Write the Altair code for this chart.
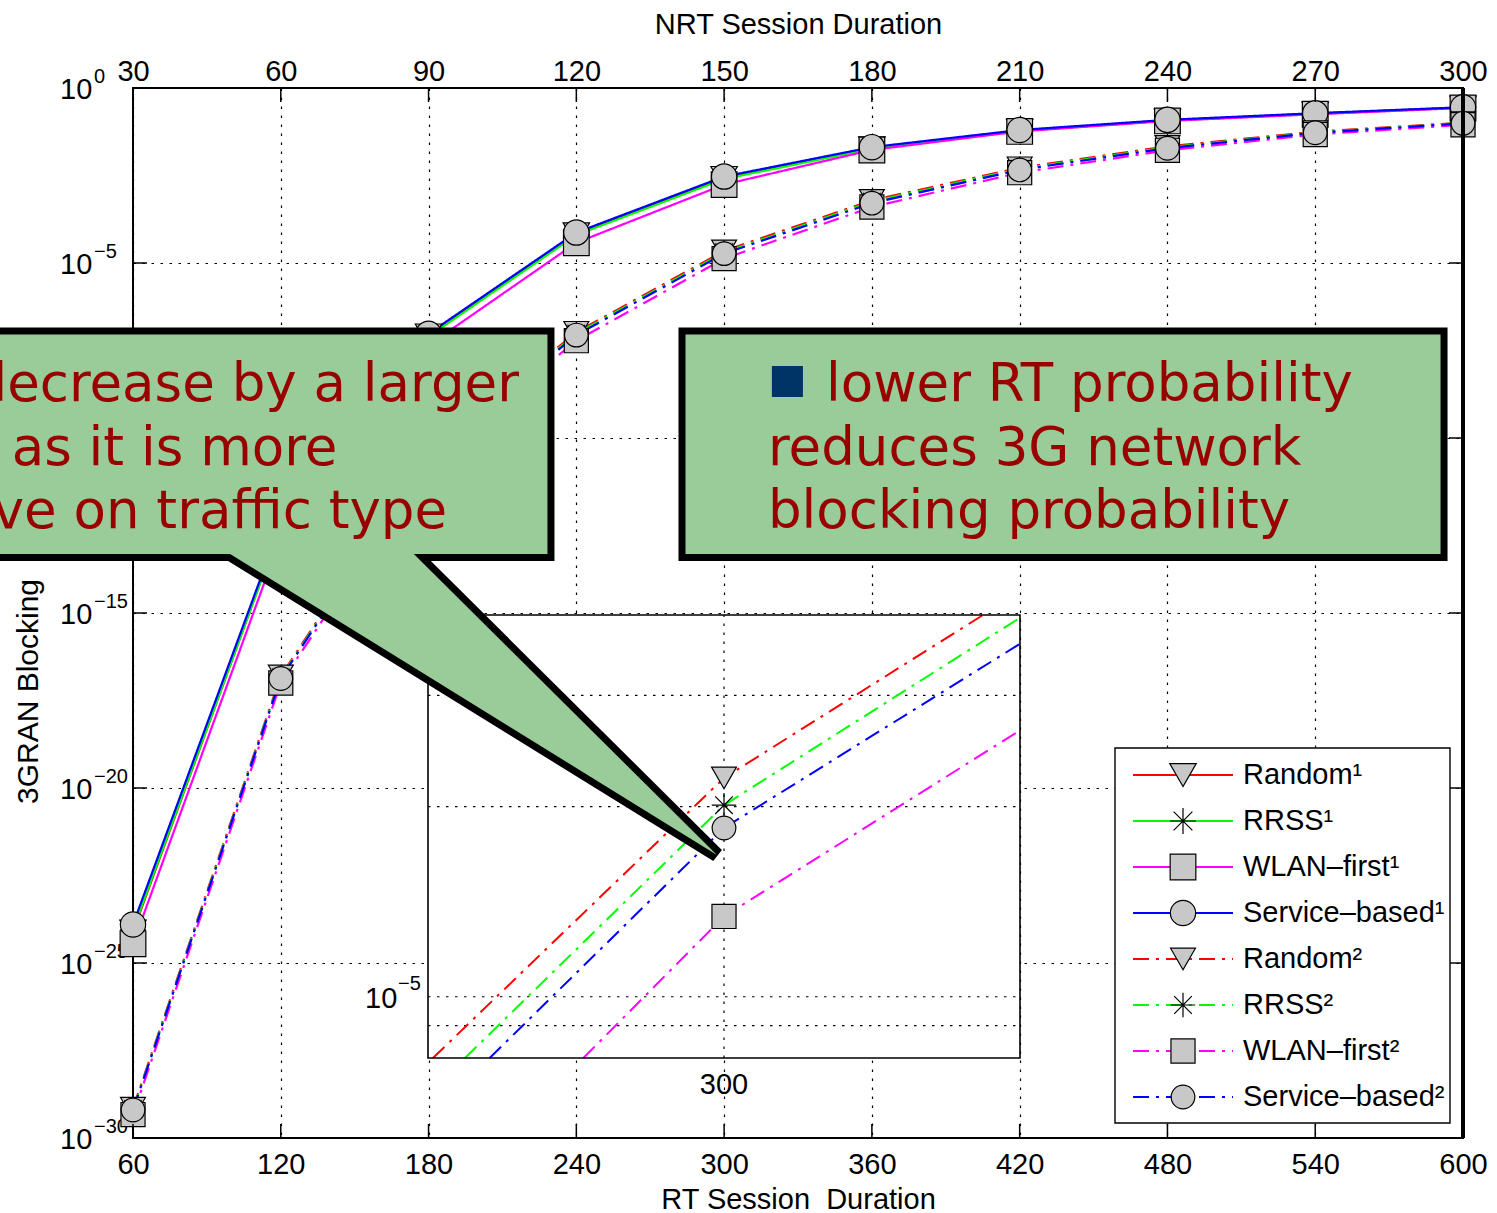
import altair as alt
import pandas as pd

# ---------------- data: log10 of the 3GRAN blocking probability ----------------
RT_SESSION = [60, 120, 180, 240, 300, 360, 420, 480, 540, 600]
SERIES = ["Random¹", "RRSS¹", "WLAN–first¹", "Service–based¹",
          "Random²", "RRSS²", "WLAN–first²", "Service–based²"]

random1 = [-24.10, -12.53, -7.07, -4.18, -2.57, -1.72, -1.22, -0.93, -0.73, -0.56]
rrss1 = [-24.05, -12.55, -7.10, -4.20, -2.60, -1.74, -1.23, -0.93, -0.74, -0.56]
wlan1 = [-24.45, -12.85, -7.35, -4.42, -2.76, -1.77, -1.24, -0.94, -0.75, -0.57]
service1 = [-23.90, -12.45, -7.02, -4.13, -2.53, -1.69, -1.20, -0.91, -0.72, -0.55]
random2 = [-29.15, -16.80, -10.42, -6.98, -4.654, -3.21, -2.28, -1.67, -1.25, -0.99]
rrss2 = [-29.18, -16.84, -10.46, -7.02, -4.696, -3.25, -2.31, -1.70, -1.27, -1.00]
wlan2 = [-29.33, -17.00, -10.65, -7.22, -4.874, -3.40, -2.42, -1.78, -1.33, -1.05]
service2 = [-29.20, -16.87, -10.50, -7.06, -4.732, -3.29, -2.34, -1.72, -1.28, -1.01]

# inset (zoom around RT = 300), values read where the lines meet the inset frame
INSET_SERIES = ["Random²", "RRSS²", "WLAN–first²", "Service–based²"]
inset_rt = {
    "Random²": [288.2, 300, 310.5],
    "RRSS²": [289.5, 300, 312],
    "WLAN–first²": [294.3, 300, 312],
    "Service–based²": [290.5, 300, 312],
}
inset_p = {
    "Random²": [8.0e-6, 2.22e-5, 4.02e-5],
    "RRSS²": [8.0e-6, 2.01e-5, 3.98e-5],
    "WLAN–first²": [8.0e-6, 1.34e-5, 2.64e-5],
    "Service–based²": [8.0e-6, 1.85e-5, 3.62e-5],
}
INSET_X_DOMAIN = [288, 312]
INSET_Y_DOMAIN = [8.0e-6, 4.02e-5]
INSET_GRID_P = [9e-6, 1e-5, 2e-5, 3e-5]
INSET_Y_LABEL_EXP = [-5]

Y_TICK_EXP = [0, -5, -10, -15, -20, -25, -30]
Y_LABEL_EXP = [0, -5, -15, -20, -25, -30]   # the 10^-10 label lies under the callout

# callout annotations in data units (RT session duration, log10 blocking)
BOX_RT = [-12.0, 282.9]
BOX_RT2 = [229.7, 592.3]
BOX_TOP_EXP = -6.943
BOX_BOTTOM_EXP = -13.414
POINTER_RT = [90.25, 168.3, 297.1]
POINTER_TOP_EXP = [-12.914, -12.914, -21.914]
POINTER_BOTTOM_EXP = [-12.914, -16.31, -21.914]
BULLET_RT = [319.4, 332.0]
BULLET_EXP = [-7.943, -8.829]
LEFT_TEXT = ["decrease by a larger", "as it is more", "sensitive on traffic type"]
LEFT_TEXT_RT = [216.7, 143.0, 187.5]
RIGHT_TEXT = ["lower RT probability", "reduces 3G network", "blocking probability"]
RIGHT_TEXT_RT = [341.4, 317.8, 317.8]
TEXT_EXP = [-8.943, -10.771, -12.571]

# ---------------- styles ----------------
COLORS = ["#ff0000", "#00ff00", "#ff00ff", "#0000ff"] * 2
DASHES = [[1, 0]] * 4 + [[16, 7, 3, 7]] * 4
AST = "M0,-1L0,1M-1,0L1,0M-0.72,-0.72L0.72,0.72M-0.72,0.72L0.72,-0.72"
SHAPES = ["triangle-down", AST, "square", "circle"] * 2
SIZES = [700, 560, 420, 480] * 2
GRAY = "#c8c8c8"
GREEN = "#99cc99"
DARKRED = "#990000"
AXFONT = "Liberation Sans"
BOXFONT = "DejaVu Sans"
GRID_DASH = [2.5, 6.5]

# ---------------- tables ----------------
rows = []
for name, vals in zip(SERIES, [random1, rrss1, wlan1, service1,
                               random2, rrss2, wlan2, service2]):
    for r, e in zip(RT_SESSION, vals):
        rows.append({"series": name, "rt": r, "p": 10.0 ** e})
df = pd.DataFrame(rows)

irows = []
for name in INSET_SERIES:
    for r, p in zip(inset_rt[name], inset_p[name]):
        irows.append({"series": name, "ix": r, "iy": p})
idf = pd.DataFrame(irows)

color_enc = alt.Color("series:N", scale=alt.Scale(domain=SERIES, range=COLORS), legend=None)
dash_enc = alt.StrokeDash("series:N", scale=alt.Scale(domain=SERIES, range=DASHES), legend=None)
shape_enc = alt.Shape("series:N", scale=alt.Scale(domain=SERIES, range=SHAPES), legend=None)
size_enc = alt.Size("series:N", scale=alt.Scale(domain=SERIES, range=SIZES), legend=None)

Y_TICKS = [10.0 ** e for e in Y_TICK_EXP]


def exp_text(e):
    return "0" if e == 0 else "−" + str(-e)


x_main = alt.X(
    "rt:Q",
    scale=alt.Scale(domain=[60, 600], nice=False, zero=False),
    axis=alt.Axis(
        values=RT_SESSION, grid=True, gridColor="black", gridDash=GRID_DASH,
        gridWidth=1.2, gridOpacity=1, ticks=False, domain=False,
        labelFont=AXFONT, labelFontSize=29, labelColor="black",
        labelBaseline="alphabetic", labelPadding=35, labelFlush=False,
        labelOverlap=False, labelBound=False,
        title="RT Session\u00a0 Duration", titleFont=AXFONT, titleFontSize=29,
        titleFontWeight="normal", titleColor="black",
        titleBaseline="alphabetic", titleY=70,
    ),
)
y_main = alt.Y(
    "p:Q",
    scale=alt.Scale(type="log", domain=[1e-30, 1], nice=False),
    axis=alt.Axis(
        values=Y_TICKS, labels=False, grid=True, gridColor="black",
        gridDash=GRID_DASH, gridWidth=1.2, gridOpacity=1, ticks=False, domain=False,
        title="3GRAN Blocking", titleFont=AXFONT, titleFontSize=30,
        titleFontWeight="normal", titleColor="black", titleAngle=270,
        titleAlign="center", titleBaseline="middle", titleX=-105, titleY=603,
    ),
)

# ---------------- main plot ----------------
ylab = pd.DataFrame({"p": [10.0 ** e for e in Y_LABEL_EXP],
                     "base": ["10"] * len(Y_LABEL_EXP),
                     "sup": [exp_text(e) for e in Y_LABEL_EXP]})
ylab_base = alt.Chart(ylab).mark_text(
    font=AXFONT, fontSize=29, align="left", baseline="middle", color="black", dy=2
).encode(y=y_main, x=alt.value(-73), text="base:N")
ylab_sup = alt.Chart(ylab).mark_text(
    font=AXFONT, fontSize=20, align="left", baseline="middle", color="black", dy=-11
).encode(y=y_main, x=alt.value(-39), text="sup:N")

lines = alt.Chart(df).mark_line(strokeWidth=2.2).encode(
    x=x_main, y=y_main, color=color_enc, strokeDash=dash_enc)
points = alt.Chart(df).mark_point(
    filled=True, fill=GRAY, stroke="black", strokeWidth=1.2, opacity=1
).encode(x=x_main, y=y_main, shape=shape_enc, size=size_enc)

tick_x = pd.DataFrame({"rt": RT_SESSION})
tick_y = pd.DataFrame({"p": Y_TICKS})
bottom_ticks = alt.Chart(tick_x).mark_rule(color="black", strokeWidth=1.5).encode(
    x=x_main, y=alt.value(1050), y2=alt.value(1036))
left_ticks = alt.Chart(tick_y).mark_rule(color="black", strokeWidth=1.5).encode(
    y=y_main, x=alt.value(0), x2=alt.value(14))
right_ticks = alt.Chart(tick_y).mark_rule(color="black", strokeWidth=1.5).encode(
    y=y_main, x=alt.value(1330), x2=alt.value(1316))
right_border = alt.Chart(pd.DataFrame({"rt": [600]})).mark_rule(
    color="black", strokeWidth=4).encode(x=x_main, y=alt.value(0), y2=alt.value(1050))

main = alt.layer(ylab_base, ylab_sup, lines, points, bottom_ticks, left_ticks,
                 right_ticks, right_border)

# ---------------- top axis (NRT session duration) ----------------
x_top = alt.X(
    "rt:Q",
    scale=alt.Scale(domain=[60, 600], nice=False, zero=False),
    axis=alt.Axis(
        orient="top", values=RT_SESSION, labelExpr="datum.value / 2",
        grid=False, ticks=False, domain=False,
        labelFont=AXFONT, labelFontSize=29, labelColor="black",
        labelBaseline="alphabetic", labelPadding=8, labelFlush=False,
        labelOverlap=False, labelBound=False,
        title="NRT Session Duration", titleFont=AXFONT, titleFontSize=29,
        titleFontWeight="normal", titleColor="black",
        titleBaseline="alphabetic", titleY=-55,
    ),
)
top = alt.Chart(tick_x).mark_rule(color="black", strokeWidth=1.5).encode(
    x=x_top, y=alt.value(0), y2=alt.value(14))

# ---------------- inset ----------------
ix = alt.X("ix:Q", scale=alt.Scale(domain=INSET_X_DOMAIN, range=[295, 887], nice=False, zero=False), axis=None)
iy = alt.Y("iy:Q", scale=alt.Scale(type="log", domain=INSET_Y_DOMAIN, range=[970, 527], nice=False), axis=None)
inset_box = pd.DataFrame({"ix": [INSET_X_DOMAIN[0]], "ix2": [INSET_X_DOMAIN[1]],
                          "iy": [INSET_Y_DOMAIN[0]], "iy2": [INSET_Y_DOMAIN[1]]})
inset_bg = alt.Chart(inset_box).mark_rect(fill="white").encode(
    x=ix, x2="ix2:Q", y=iy, y2="iy2:Q")
inset_hgrid = alt.Chart(pd.DataFrame({
    "iy": INSET_GRID_P, "ix": [INSET_X_DOMAIN[0]] * 4, "ix2": [INSET_X_DOMAIN[1]] * 4
})).mark_rule(color="black", strokeDash=GRID_DASH, strokeWidth=1.2).encode(
    x=ix, x2="ix2:Q", y=iy)
inset_vgrid = alt.Chart(pd.DataFrame({
    "ix": [300], "iy": [INSET_Y_DOMAIN[0]], "iy2": [INSET_Y_DOMAIN[1]]
})).mark_rule(color="black", strokeDash=GRID_DASH, strokeWidth=1.2).encode(
    x=ix, y=iy, y2="iy2:Q")
inset_lines = alt.Chart(idf).mark_line(strokeWidth=2).encode(
    x=ix, y=iy, color=color_enc, strokeDash=dash_enc)
inset_points = alt.Chart(idf).transform_filter("datum.ix == 300").mark_point(
    filled=True, fill=GRAY, stroke="black", strokeWidth=1.2, opacity=1
).encode(x=ix, y=iy, shape=shape_enc, size=size_enc)
inset_frame = alt.Chart(inset_box).mark_rect(
    fillOpacity=0, stroke="black", strokeWidth=1.6).encode(
    x=ix, x2="ix2:Q", y=iy, y2="iy2:Q")
inset_xlabel = alt.Chart(pd.DataFrame({"ix": [300], "t": ["300"]})).mark_text(
    font=AXFONT, fontSize=29, baseline="middle", align="center", color="black"
).encode(x=ix, y=alt.value(997), text="t:N")
iylab = pd.DataFrame({"iy": [10.0 ** e for e in INSET_Y_LABEL_EXP],
                      "base": ["10"] * len(INSET_Y_LABEL_EXP),
                      "sup": [exp_text(e) for e in INSET_Y_LABEL_EXP]})
inset_ylabel = alt.Chart(iylab).mark_text(
    font=AXFONT, fontSize=29, baseline="middle", align="left", color="black", dy=2
).encode(x=alt.value(232), y=iy, text="base:N")
inset_ysup = alt.Chart(iylab).mark_text(
    font=AXFONT, fontSize=20, baseline="middle", align="left", color="black", dy=-13
).encode(x=alt.value(265), y=iy, text="sup:N")
inset = alt.layer(inset_bg, inset_hgrid, inset_vgrid, inset_lines, inset_points,
                  inset_frame, inset_xlabel, inset_ylabel, inset_ysup)

# ---------------- callouts ----------------
ax = alt.X("ax:Q", scale=alt.Scale(domain=[60, 600], nice=False, zero=False), axis=None)
ay = alt.Y("ay:Q", scale=alt.Scale(type="log", domain=[1e-30, 1], nice=False), axis=None)
boxes = pd.DataFrame({"ax": BOX_RT, "ax2": BOX_RT2,
                      "ay": [10.0 ** BOX_TOP_EXP] * 2, "ay2": [10.0 ** BOX_BOTTOM_EXP] * 2})
pointer = pd.DataFrame({"ax": POINTER_RT,
                        "ay": [10.0 ** e for e in POINTER_TOP_EXP],
                        "ay2": [10.0 ** e for e in POINTER_BOTTOM_EXP]})
pointer_outline = alt.Chart(pointer).mark_area(
    fill=GREEN, stroke="black", strokeWidth=14, strokeJoin="bevel", opacity=1
).encode(x=ax, y=ay, y2="ay2:Q")
box_marks = alt.Chart(boxes).mark_rect(fill=GREEN, stroke="black", strokeWidth=7).encode(
    x=ax, x2="ax2:Q", y=ay, y2="ay2:Q")
pointer_fill = alt.Chart(pointer).mark_area(fill=GREEN, strokeWidth=0, opacity=1).encode(
    x=ax, y=ay, y2="ay2:Q")
bullet = alt.Chart(pd.DataFrame({"ax": [BULLET_RT[0]], "ax2": [BULLET_RT[1]],
                                 "ay": [10.0 ** BULLET_EXP[0]], "ay2": [10.0 ** BULLET_EXP[1]]})
                   ).mark_rect(fill="#003366").encode(x=ax, x2="ax2:Q", y=ay, y2="ay2:Q")
left_text = alt.Chart(pd.DataFrame({"ax": LEFT_TEXT_RT, "ay": [10.0 ** e for e in TEXT_EXP],
                                    "t": LEFT_TEXT})).mark_text(
    font=BOXFONT, fontSize=53, align="right", baseline="alphabetic", color=DARKRED
).encode(x=ax, y=ay, text="t:N")
right_text = alt.Chart(pd.DataFrame({"ax": RIGHT_TEXT_RT, "ay": [10.0 ** e for e in TEXT_EXP],
                                     "t": RIGHT_TEXT})).mark_text(
    font=BOXFONT, fontSize=53, align="left", baseline="alphabetic", color=DARKRED
).encode(x=ax, y=ay, text="t:N")
callouts = alt.layer(pointer_outline, box_marks, pointer_fill, bullet, left_text, right_text)

# ---------------- legend ----------------
ly = alt.Y("series:N", scale=alt.Scale(type="point", domain=SERIES, range=[687, 1009], padding=0), axis=None)
legend_df = pd.DataFrame({"series": SERIES})
legend_box = alt.Chart(pd.DataFrame({"a": [0]})).mark_rect(
    fill="white", stroke="black", strokeWidth=1.4).encode(
    x=alt.value(982), x2=alt.value(1317), y=alt.value(660), y2=alt.value(1035))
legend_lines = alt.Chart(legend_df).mark_rule(strokeWidth=2).encode(
    y=ly, x=alt.value(1000), x2=alt.value(1100), color=color_enc, strokeDash=dash_enc)
legend_points = alt.Chart(legend_df).mark_point(
    filled=True, fill=GRAY, stroke="black", strokeWidth=1.2, opacity=1
).encode(y=ly, x=alt.value(1050), shape=shape_enc, size=size_enc)
legend_text = alt.Chart(legend_df).mark_text(
    font=AXFONT, fontSize=29, align="left", baseline="middle", color="black"
).encode(y=ly, x=alt.value(1110), text="series:N")
legend = alt.layer(legend_box, legend_lines, legend_points, legend_text)

chart = alt.layer(main, inset, top, callouts, legend).resolve_scale(
    x="independent", y="independent"
).properties(
    width=1330, height=1050,
    autosize=alt.AutoSizeParams(type="none"),
    padding={"left": 133, "top": 88, "right": 34, "bottom": 75},
).configure_view(stroke="black", strokeWidth=2)

chart.save("out.html", embed_options={"renderer": "svg", "actions": False})
